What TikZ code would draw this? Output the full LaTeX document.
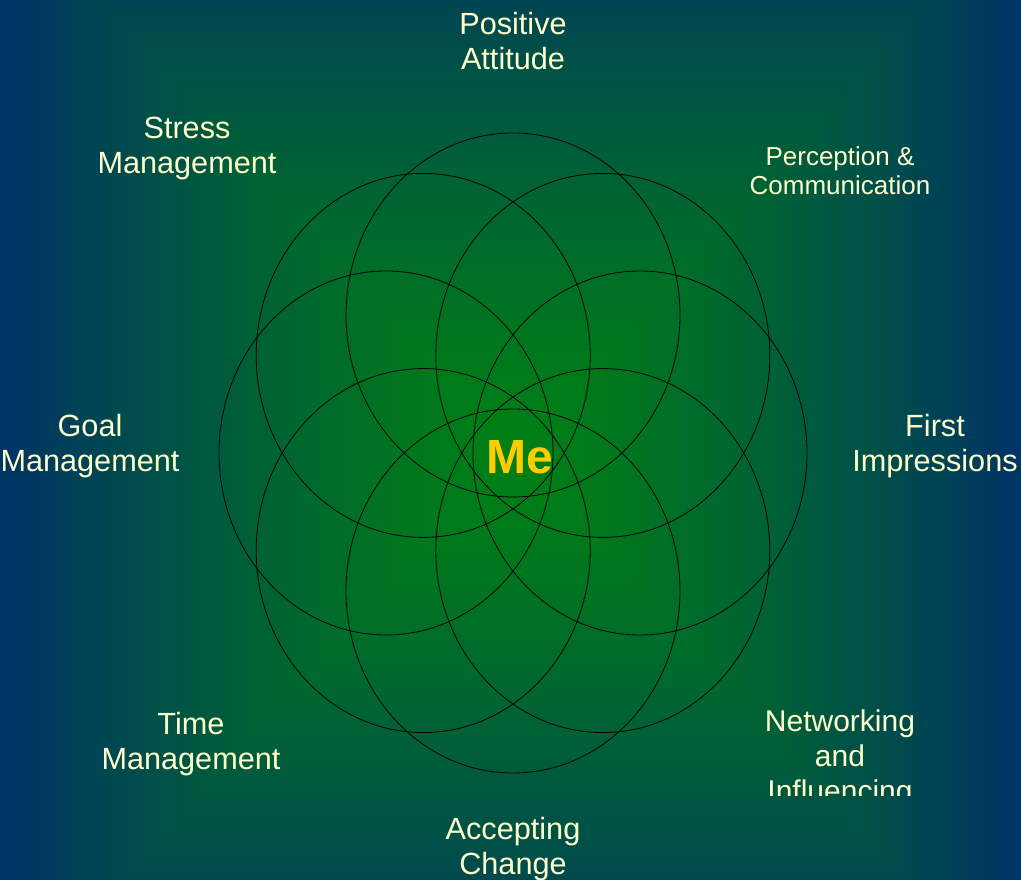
\documentclass[tikz,border=0pt]{standalone}
\usepackage{fontspec}
\setmainfont{Liberation Sans}
\definecolor{bgblue}{HTML}{003366}
\definecolor{bggreen}{HTML}{008014}
\definecolor{lbltext}{HTML}{FFFFCC}
\definecolor{metext}{HTML}{FFCC00}
\tikzset{
  petal/.style={draw=black, line width=0.6pt},
  lbl/.style={text=lbltext, align=center, inner sep=0pt,
    font=\fontsize{23}{26.25}\selectfont},
  smalllbl/.style={lbl, font=\fontsize{19.5}{21.75}\selectfont},
  melbl/.style={text=metext, inner sep=0pt,
    font=\fontsize{36}{40}\selectfont\bfseries}
}

\begin{document}
\begin{tikzpicture}[x=0.75pt,y=0.75pt]
\useasboundingbox (0,0) rectangle (1021,880);
\clip (0,0) rectangle (1021,880);

% background
\foreach \i in {0,...,80}{
  \pgfmathsetmacro{\t}{1-\i/80}
  \pgfmathsetmacro{\pct}{100*\t^1.3}
  \fill[bgblue!\pct!bggreen] ({513-513*\t},{427-560*\t}) rectangle ({513+513*\t},{427+560*\t});
}

\foreach \a in {0,45,...,315}
  \draw[petal] ({513+127*cos(\a)},{427+138*sin(\a)}) ellipse [x radius=167, y radius=182];

\node[lbl] (attitude) at (513,839) {Positive\\Attitude};
\node[lbl] (stress) at (187,732) {Stress\\Management};
\node[smalllbl] (perception) at (840,709) {Perception \&\\Communication};
\node[lbl] (goal) at (90,434) {Goal\\Management};
\node[lbl] (first) at (935,434) {First\\Impressions};
\node[lbl] (time) at (191,136) {Time\\Management};
\begin{scope}
\clip (700,84) rectangle (1000,200);
\node[lbl, font=\fontsize{22.5}{26.25}\selectfont] (network) at (840,121) {Networking\\and\\Influencing};
\end{scope}
\node[lbl] (accept) at (513,31) {Accepting\\Change};
\node[melbl] (me) at (520,423) {Me};

\end{tikzpicture}
\end{document}
